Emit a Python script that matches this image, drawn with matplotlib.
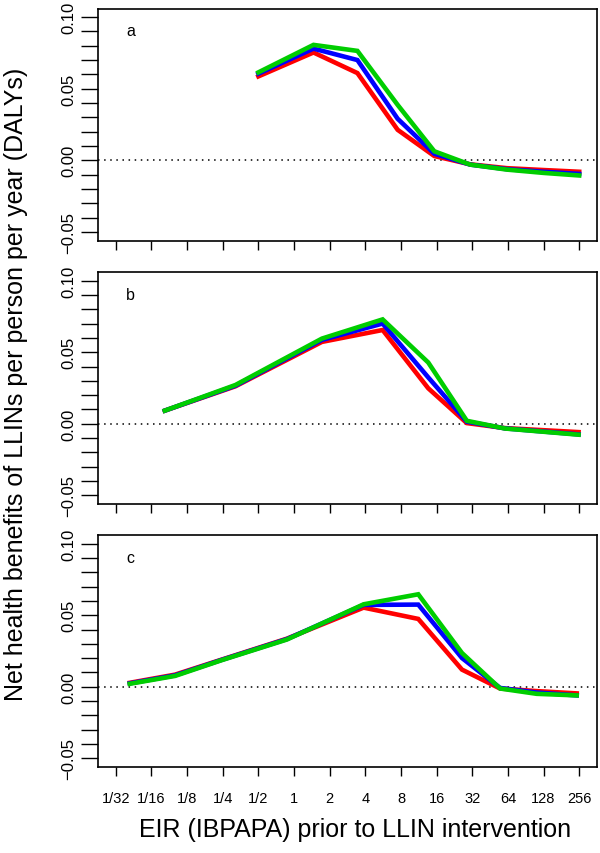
import numpy as np
import matplotlib
matplotlib.use('Agg')
import matplotlib.pyplot as plt
from matplotlib.ticker import FixedLocator, FuncFormatter

# EIR values (IBPAPA) for each panel
eir_a = [0.5, 1.46, 3.43, 7.5, 15.3, 30.7, 62.7, 128, 256]
eir_b = [0.081, 0.32, 1.72, 5.6, 13.6, 28.8, 60.6, 253]
eir_c = [0.041, 0.099, 0.245, 0.87, 3.87, 11.2, 26.2, 55, 112, 244]

# net health benefits (DALYs) per person per year
red_a = [0.0586, 0.0753, 0.0609, 0.0213, 0.0030, -0.0028, -0.0055, -0.0068, -0.0080]
blue_a = [0.0605, 0.0780, 0.0700, 0.0290, 0.0046, -0.0030, -0.0062, -0.0080, -0.0095]
green_a = [0.0614, 0.0806, 0.0764, 0.0387, 0.0063, -0.0030, -0.0065, -0.0088, -0.0106]

red_b = [0.0092, 0.0262, 0.0572, 0.0655, 0.0248, 0.0005, -0.0030, -0.0058]
blue_b = [0.0092, 0.0266, 0.0586, 0.0700, 0.0324, 0.0015, -0.0032, -0.0074]
green_b = [0.0092, 0.0271, 0.0595, 0.0729, 0.0428, 0.0021, -0.0033, -0.0076]

red_c = [0.0028, 0.0085, 0.0190, 0.0336, 0.0553, 0.0474, 0.0120, -0.0012, -0.0030, -0.0046]
blue_c = [0.0024, 0.0080, 0.0188, 0.0333, 0.0572, 0.0574, 0.0201, -0.0008, -0.0040, -0.0060]
green_c = [0.0021, 0.0076, 0.0186, 0.0330, 0.0576, 0.0646, 0.0236, -0.0012, -0.0049, -0.0060]

xticks = [1/32, 1/16, 1/8, 1/4, 1/2, 1, 2, 4, 8, 16, 32, 64, 128, 256]
xtick_labels = ['1/32', '1/16', '1/8', '1/4', '1/2', '1', '2', '4', '8',
                '16', '32', '64', '128', '256']
panel_names = ['a', 'b', 'c']


def main():
    plt.rcParams['font.family'] = ['Liberation Sans', 'DejaVu Sans']
    fig = plt.figure(figsize=(6, 8.54), dpi=100)

    panels = [(eir_a, red_a, blue_a, green_a),
              (eir_b, red_b, blue_b, green_b),
              (eir_c, red_c, blue_c, green_c)]
    tops = [9.5, 273, 536]
    h = 232

    for i, (x, r, b, g) in enumerate(panels):
        ax = fig.add_axes([98 / 600, 1 - (tops[i] + h) / 854, 499 / 600, h / 854])
        ax.axhline(0, color='black', lw=1.1, ls=(0, (1, 3)))
        ax.plot(x, r, color='#ff0000', lw=3.3, solid_joinstyle='miter')
        ax.plot(x, b, color='#0000ff', lw=3.3, solid_joinstyle='miter')
        ax.plot(x, g, color='#00cd00', lw=3.3, solid_joinstyle='miter')

        ax.set_xscale('log', base=2)
        ax.set_xlim(2 ** -5.5, 2 ** 8.5)
        ax.set_ylim(-0.056, 0.106)
        ax.xaxis.set_major_locator(FixedLocator(xticks))
        ax.xaxis.set_minor_locator(FixedLocator([]))
        if i == 2:
            ax.set_xticklabels(xtick_labels, fontsize=10.5)
        else:
            ax.set_xticklabels([])
        yt = np.round(np.arange(-0.05, 0.1001, 0.01), 2)
        ax.yaxis.set_major_locator(FixedLocator(yt))
        ax.yaxis.set_major_formatter(FuncFormatter(
            lambda v, p: ('%.2f' % v).replace('-', '\u2212') if abs(round(v * 100)) % 5 == 0 else ''))
        ax.tick_params(axis='x', length=6.5, width=1, direction='out', pad=11)
        ax.tick_params(axis='y', length=12, width=1, direction='out',
                       labelsize=12, pad=3.5)
        for lab in ax.get_yticklabels():
            lab.set_rotation(90)
            lab.set_va('center')
        for s in ax.spines.values():
            s.set_linewidth(1.2)
        ax.text(0.065, 0.905, panel_names[i], transform=ax.transAxes,
                fontsize=11.5, ha='center', va='center')

    fig.text(16 / 600, 1 - 384 / 854,
             'Net health benefits of LLINs per person per year (DALYs)',
             rotation=90, ha='center', va='center', fontsize=18)
    fig.text(355 / 600, 1 - 830 / 854, 'EIR (IBPAPA) prior to LLIN intervention',
             ha='center', va='center', fontsize=18)

    plt.savefig('out.png', dpi=100)


if __name__ == "__main__":
    main()
